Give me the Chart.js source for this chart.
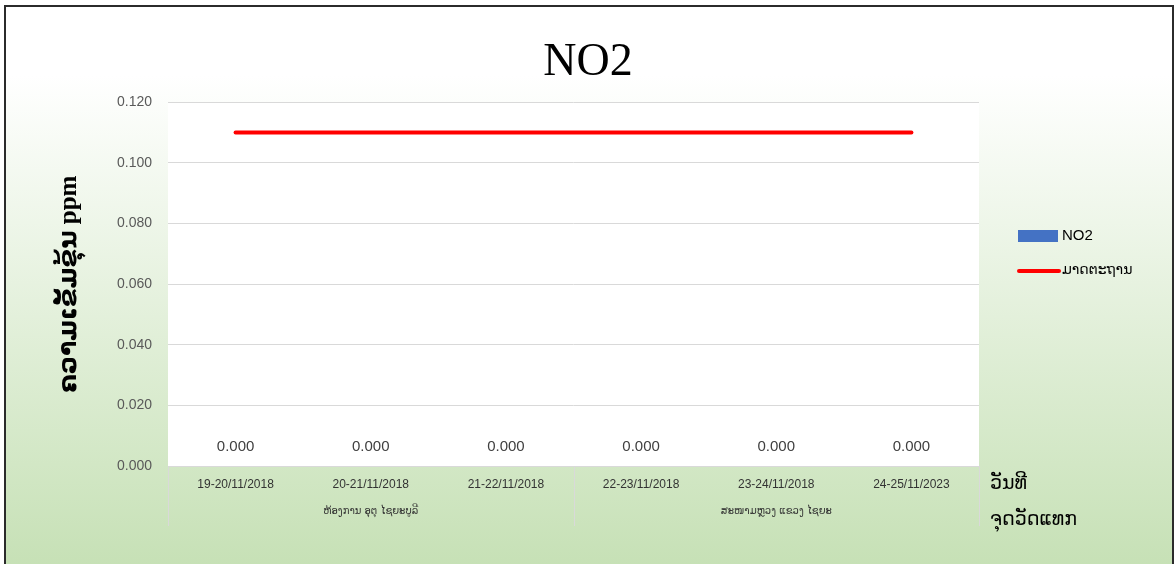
<!DOCTYPE html>
<html><head><meta charset="utf-8">
<script src="https://cdn.jsdelivr.net/npm/chart.js@4"></script>
<style>
html,body{margin:0;padding:0;background:#fff;width:1176px;height:564px;overflow:hidden}
#frame{position:absolute;left:4px;top:5px;width:1166px;height:570px;border:2px solid #2b2b2b;background:linear-gradient(to bottom,#ffffff 0%,#ffffff 12%,#c5e0b4 100%)}
#wrap{position:absolute;left:0;top:0;width:1176px;height:564px}
</style></head><body>
<div id="frame"></div>
<div id="wrap"><canvas id="c" width="1176" height="564"></canvas></div>
<script>
const categories = ['19-20/11/2018','20-21/11/2018','21-22/11/2018','22-23/11/2018','23-24/11/2018','24-25/11/2023'];
const groupLabels = ['ຫ້ອງການ ອຸຕຸ ໄຊຍະບູລີ','ສະໜາມຫຼວງ ແຂວງ ໄຊຍະ'];
const groupSizes = [3,3];
const no2Values = [0,0,0,0,0,0];
const standardValues = [0.11,0.11,0.11,0.11,0.11,0.11];
const seriesNames = ['NO2','ມາດຕະຖານ'];
const chartTitle = 'NO2';
const yTitle = 'ຄວາມເຂັ້ມຂຸ້ນ ppm';
const xTitleLines = ['ວັນທີ','ຈຸດວັດແທກ'];
const yMin = 0, yMax = 0.12, yStep = 0.02;

const decor = {
  id: 'decor',
  beforeDraw(chart){
    const {ctx, chartArea:a} = chart;
    ctx.save();
    ctx.fillStyle = '#ffffff';
    ctx.fillRect(a.left, a.top, a.right - a.left, a.bottom - a.top);
    ctx.restore();
  },
  afterDatasetsDraw(chart){
    const {ctx, chartArea:a} = chart;
    const x = chart.scales.x, x2 = chart.scales.x2;
    ctx.save();
    // group separators
    const half = (x.getPixelForValue(1) - x.getPixelForValue(0)) / 2;
    ctx.strokeStyle = '#d9d9d9';
    ctx.lineWidth = 1;
    let idx = 0;
    const bounds = [0];
    groupSizes.forEach(s => { idx += s; bounds.push(idx); });
    bounds.forEach(b => {
      const px = Math.round(x.getPixelForValue(b) - half) + 0.5;
      ctx.beginPath(); ctx.moveTo(px, a.bottom); ctx.lineTo(px, x2.bottom); ctx.stroke();
    });
    // data labels
    const meta = chart.getDatasetMeta(0);
    ctx.fillStyle = '#404040';
    ctx.font = '15px "Liberation Sans", Arial, sans-serif';
    ctx.textAlign = 'center';
    ctx.textBaseline = 'middle';
    meta.data.forEach((bar, i) => {
      ctx.fillText(no2Values[i].toFixed(3), bar.x, bar.y - 19);
    });
    // legend
    const ds = chart.data.datasets;
    ctx.textAlign = 'left';
    ctx.fillStyle = ds[0].backgroundColor;
    ctx.fillRect(1018, 230, 40, 12);
    ctx.fillStyle = '#000';
    ctx.font = '15px "Liberation Sans", Arial, sans-serif';
    ctx.fillText(ds[0].label, 1062, 236);
    ctx.strokeStyle = ds[1].borderColor;
    ctx.lineWidth = 4; ctx.lineCap = 'round';
    ctx.beginPath(); ctx.moveTo(1019, 271); ctx.lineTo(1059, 271); ctx.stroke();
    ctx.font = '14px "DejaVu Sans", sans-serif';
    ctx.fillText(ds[1].label, 1062, 270);
    // axis caption at bottom right
    ctx.font = '19px "DejaVu Sans", sans-serif';
    ctx.fillText(xTitleLines[0], 990, 484);
    ctx.fillText(xTitleLines[1], 990, 520);
    ctx.restore();
  }
};

new Chart(document.getElementById('c'), {
  type: 'bar',
  data: {
    labels: categories,
    datasets: [
      { type:'bar', label: seriesNames[0], data: no2Values, backgroundColor:'#4472c4', order:2 },
      { type:'line', label: seriesNames[1], data: standardValues, borderColor:'#ff0000', backgroundColor:'#ff0000', borderWidth:4, pointRadius:0, borderCapStyle:'round', fill:false, order:1 }
    ]
  },
  options: {
    responsive:false,
    animation:false,
    devicePixelRatio:1,
    layout:{ padding:{ left:0, right:0, top:0, bottom:38 } },
    plugins:{
      legend:{ display:false },
      tooltip:{ enabled:false },
      title:{ display:true, text: chartTitle, color:'#000', font:{ family:'"Liberation Serif", "Times New Roman", serif', size:46, weight:'normal' }, padding:{ top:35, bottom:12 } }
    },
    scales:{
      x:{
        type:'category', position:'bottom', offset:true, weight:0,
        grid:{ display:false, drawTicks:false }, border:{ display:false },
        ticks:{ color:'#333', font:{ family:'"Liberation Sans", Arial, sans-serif', size:12 }, padding:11, maxRotation:0, autoSkip:false },
        afterFit(s){ s.height = 30; }
      },
      x2:{
        type:'category', position:'bottom', offset:true, weight:1, labels: groupLabels,
        grid:{ display:false, drawTicks:false }, border:{ display:false },
        ticks:{ color:'#333', font:{ family:'"DejaVu Sans", sans-serif', size:10 }, padding:9, maxRotation:0, autoSkip:false },
        afterFit(s){ s.height = 30; }
      },
      y:{
        min:yMin, max:yMax,
        grid:{ color:'#d9d9d9', drawTicks:false, lineWidth:1 }, border:{ display:false },
        ticks:{ stepSize:yStep, color:'#595959', padding:16, font:{ family:'"Liberation Sans", Arial, sans-serif', size:14 }, callback:v => Number(v).toFixed(3) },
        title:{ display:true, text:yTitle, color:'#000', font:{ family:'"Liberation Serif", "DejaVu Sans", serif', size:25, weight:'bold' }, padding:{ top:55, bottom:0 } },
        afterFit(s){ s.width = 168; }
      },
      legendSpace:{
        type:'linear', position:'right', min:0, max:1,
        grid:{ display:false, drawTicks:false }, border:{ display:false },
        ticks:{ display:false },
        afterFit(s){ s.width = 197; }
      }
    }
  },
  plugins:[decor]
});
</script>
</body></html>
